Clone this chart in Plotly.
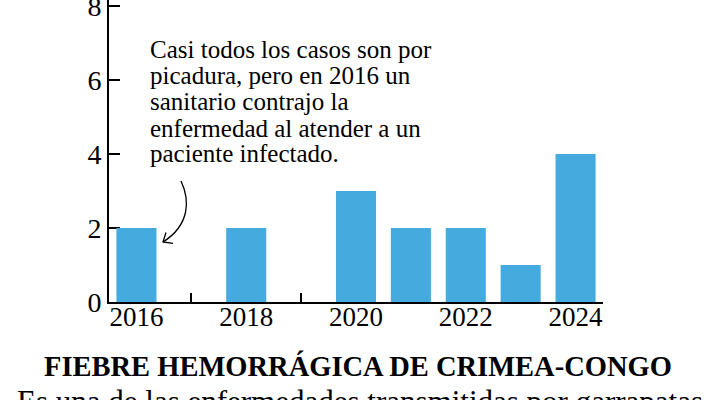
import plotly.graph_objects as go

years = [2016, 2017, 2018, 2019, 2020, 2021, 2022, 2023, 2024]
cases = [2, 0, 2, 0, 3, 2, 2, 1, 4]
x_tick_labels = ["2016", "", "2018", "", "2020", "", "2022", "", "2024"]
y_ticks = [0, 2, 4, 6, 8]
note_lines = [
    "Casi todos los casos son por",
    "picadura, pero en 2016 un",
    "sanitario contrajo la",
    "enfermedad al atender a un",
    "paciente infectado.",
]
title_text = "FIEBRE HEMORRÁGICA DE CRIMEA-CONGO"
subtitle_text = "Es una de las enfermedades transmitidas por garrapatas"

W, H = 720, 400
L, R, T, B = 109, 117, 0, 98
PW, PH = W - L - R, H - T - B
XR = [2015.5, 2024.5]
YR = [0, 8.16]

def px_x(px):
    return (px - L) / PW

def px_y(py):
    return (T + PH - py) / PH

def dx(px):
    return XR[0] + (px - L) / PW * (XR[1] - XR[0])

def dy(py):
    return YR[0] + (T + PH - py) / PH * (YR[1] - YR[0])

serif = "Liberation Serif"

fig = go.Figure(go.Bar(x=years, y=cases, width=0.73, marker=dict(color="#45ABDF", line=dict(width=0))))

fig.update_layout(
    width=W, height=H, margin=dict(l=L, r=R, t=T, b=B, pad=0, autoexpand=False),
    paper_bgcolor="white", plot_bgcolor="white", showlegend=False,
    font=dict(family=serif, color="black", size=24),
    xaxis=dict(range=XR, tickvals=years, ticktext=x_tick_labels, ticks="inside", ticklen=9,
               tickwidth=2, tickcolor="black", showline=True, linecolor="black", linewidth=2,
               showgrid=False, zeroline=False, layer="below traces", ticklabelstandoff=-10,
               automargin=False,
               tickfont=dict(family=serif, size=27, color="black")),
    yaxis=dict(range=YR, tickvals=y_ticks, ticks="inside", ticklen=11, tickwidth=2,
               tickcolor="black", showline=True, linecolor="black", linewidth=2,
               showgrid=False, zeroline=False, layer="below traces",
               ticklabeloverflow="allow", automargin=False,
               tickfont=dict(family=serif, size=28, color="black")),
)

baselines = [56, 83, 109, 135, 161]
for line, bl in zip(note_lines, baselines):
    fig.add_annotation(text=line, xref="paper", yref="paper", x=px_x(148), y=px_y(bl - 7),
                       xanchor="left", yanchor="middle", showarrow=False,
                       font=dict(family=serif, size=25, color="black"))

arrow = "M {:.4f},{:.4f} C {:.4f},{:.4f} {:.4f},{:.4f} {:.4f},{:.4f}".format(
    dx(181), dy(181), dx(190), dy(200), dx(190), dy(225), dx(163), dy(242))
head = "M {:.4f},{:.4f} L {:.4f},{:.4f} L {:.4f},{:.4f}".format(
    dx(166), dy(232.5), dx(163), dy(242), dx(173), dy(243.4))
for p in (arrow, head):
    fig.add_shape(type="path", path=p, xref="x", yref="y", line=dict(color="black", width=1.3))

fig.add_annotation(text="<b>" + title_text + "</b>", xref="paper", yref="paper",
                   x=px_x(358), y=px_y(366), xanchor="center", yanchor="middle", showarrow=False,
                   font=dict(family=serif, size=28.5, color="black"))
fig.add_annotation(text=subtitle_text, xref="paper", yref="paper",
                   x=px_x(360), y=px_y(401), xanchor="center", yanchor="middle", showarrow=False,
                   font=dict(family=serif, size=31, color="black"))

fig.write_html("out.html")
